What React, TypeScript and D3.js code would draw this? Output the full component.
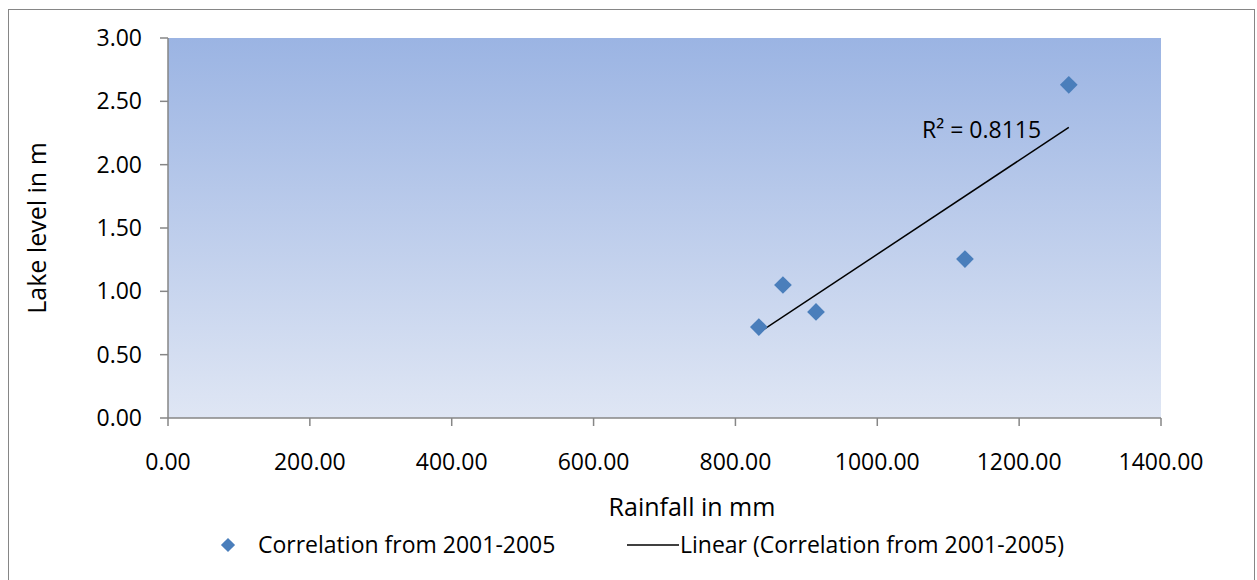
import React from "react";
import * as d3 from "d3";

const rainfall = [833, 867, 913.6, 1123.6, 1270];
const lakeLevel = [0.718, 1.05, 0.837, 1.255, 2.63];
const xTicks = [0, 200, 400, 600, 800, 1000, 1200, 1400];
const yTicks = [0, 0.5, 1, 1.5, 2, 2.5, 3];
const seriesName = "Correlation from 2001-2005";
const trendName = "Linear (Correlation from 2001-2005)";
const r2Label = "R² = 0.8115";

const W = 1257, H = 580;
const left = 168, right = 1161, top = 38, bottom = 418;
const font = "'Open Sans', sans-serif";

export default function App() {
  const x = d3.scaleLinear().domain([0, 1400]).range([left, right]);
  const y = d3.scaleLinear().domain([0, 3]).range([bottom, top]);
  const mx = d3.mean(rainfall)!, my = d3.mean(lakeLevel)!;
  let sxy = 0, sxx = 0;
  rainfall.forEach((v, i) => { sxy += (v - mx) * (lakeLevel[i] - my); sxx += (v - mx) ** 2; });
  const slope = sxy / sxx, icpt = my - slope * mx;
  const x0 = d3.min(rainfall)!, x1 = d3.max(rainfall)!;
  const diamond = d3.symbol().type(d3.symbolDiamond2).size(200)();
  const tickFmt = d3.format(".2f");
  const fs = 23;
  return (
    <svg width={W} height={H} style={{ position: "absolute", left: 0, top: 0 }} fontFamily={font}>
      <defs>
        <linearGradient id="bg" x1="0" y1="0" x2="0" y2="1">
          <stop offset="0" stopColor="#9bb4e3" />
          <stop offset="1" stopColor="#dfe6f4" />
        </linearGradient>
      </defs>
      <rect x={0} y={0} width={W} height={H} fill="#fff" />
      <rect x={8.5} y={9.5} width={1246} height={H + 10} fill="#fff" stroke="#868686" strokeWidth={1} />
      <rect x={left} y={top} width={right - left} height={bottom - top} fill="url(#bg)" />
      <line x1={left} x2={left} y1={top} y2={bottom} stroke="#868686" strokeWidth={1.5} />
      <line x1={left} x2={right} y1={bottom} y2={bottom} stroke="#868686" strokeWidth={1.5} />
      {yTicks.map(t => (
        <g key={"y" + t}>
          <line x1={left - 8} x2={left} y1={y(t)} y2={y(t)} stroke="#868686" strokeWidth={1.5} />
          <text x={142} y={y(t)} dy="0.35em" textAnchor="end" fontSize={fs} fill="#000">{tickFmt(t)}</text>
        </g>
      ))}
      {xTicks.map(t => (
        <g key={"x" + t}>
          <line x1={x(t)} x2={x(t)} y1={bottom} y2={bottom + 8} stroke="#868686" strokeWidth={1.5} />
          <text x={x(t)} y={462} dy="0.35em" textAnchor="middle" fontSize={fs} fill="#000">{tickFmt(t)}</text>
        </g>
      ))}
      <line x1={x(x0)} y1={y(icpt + slope * x0)} x2={x(x1)} y2={y(icpt + slope * x1)} stroke="#000" strokeWidth={1.5} />
      {rainfall.map((v, i) => (
        <path key={i} d={diamond!} transform={`translate(${x(v)},${y(lakeLevel[i])})`} fill="#4a7ebb" />
      ))}
      <text x={922} y={130} dy="0.35em" fontSize={fs} fill="#000">{r2Label}</text>
      <text x={692} y={507} dy="0.35em" textAnchor="middle" fontSize={25} fill="#000">Rainfall in mm</text>
      <text transform={`translate(37,228) rotate(-90)`} dy="0.35em" textAnchor="middle" fontSize={25} fill="#000">Lake level in m</text>
      <path d={diamond!} transform="translate(228,545) scale(0.8)" fill="#4a7ebb" />
      <text x={258} y={545} dy="0.35em" fontSize={fs} fill="#000">{seriesName}</text>
      <line x1={627} x2={679} y1={545} y2={545} stroke="#000" strokeWidth={1.5} />
      <text x={680} y={545} dy="0.35em" fontSize={fs} fill="#000">{trendName}</text>
    </svg>
  );
}
